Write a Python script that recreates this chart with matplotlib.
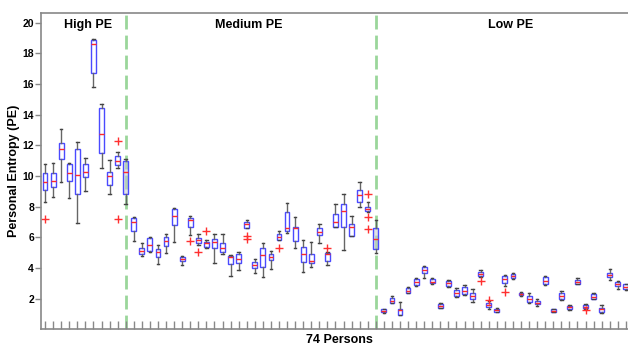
import numpy as np
import matplotlib
matplotlib.use("Agg")
import matplotlib.pyplot as plt

plt.rcParams['font.family'] = ['Liberation Sans', 'DejaVu Sans']

# box statistics per person (whisker low, q1, median, q3, whisker high)
lo = [8.32, 8.65, 9.63, 8.54, 6.91, 9.02, 15.79, 10.50, 8.81, 10.50, 8.17,
      5.76, 4.78, 5.06, 4.26, 4.96, 5.67, 4.19, 6.15, 5.50, 5.28, 4.30, 4.91, 3.50, 3.87,
      6.59, 3.65, 3.43, 3.93, 5.83, 6.26, 5.28, 3.76, 4.08, 5.61, 4.19, 6.69, 5.17, 6.11,
      7.96, 7.67, 5.00,
      1.08, 1.70, 0.93, 2.35, 2.85, 3.37, 2.94, 1.38, 2.78, 2.13, 2.24, 1.80, 3.44, 1.30,
      1.10, 2.82, 3.30, 2.20, 1.74, 1.54, 2.90, 1.10, 1.91, 1.28, 2.93, 1.35, 1.95, 1.08,
      3.22, 2.63, 2.58]
q1 = [9.09, 9.30, 11.09, 9.69, 8.83, 9.91, 16.70, 11.52, 9.41, 10.72, 8.81,
      6.41, 4.91, 5.13, 4.74, 5.45, 6.80, 4.46, 6.69, 5.61, 5.39, 5.28, 5.06, 4.26, 4.30,
      6.63, 3.98, 4.08, 4.52, 5.83, 6.41, 5.78, 4.41, 4.30, 6.15, 4.46, 6.69, 6.69, 6.11,
      8.28, 7.72, 5.22,
      1.13, 1.70, 0.93, 2.39, 2.89, 3.65, 3.00, 1.41, 2.82, 2.19, 2.30, 1.98, 3.48, 1.47,
      1.15, 3.00, 3.37, 2.24, 1.80, 1.63, 2.94, 1.13, 1.98, 1.32, 2.96, 1.37, 1.98, 1.11,
      3.39, 2.82, 2.61]
med = [9.63, 9.69, 11.76, 10.22, 10.07, 10.24, 18.61, 12.72, 10.00, 10.98, 10.28,
       7.00, 5.11, 5.50, 5.06, 5.76, 7.39, 4.59, 7.13, 5.83, 5.61, 5.67, 5.32, 4.74, 4.57,
       6.85, 4.19, 4.85, 4.70, 6.04, 6.59, 6.59, 4.89, 4.46, 6.37, 4.89, 7.02, 7.74, 6.69,
       8.76, 7.85, 5.89,
       1.21, 1.87, 1.26, 2.52, 3.07, 3.87, 3.11, 1.52, 3.04, 2.39, 2.52, 2.19, 3.61, 1.59,
       1.26, 3.26, 3.50, 2.32, 1.96, 1.74, 3.17, 1.21, 2.17, 1.43, 3.09, 1.48, 2.13, 1.30,
       3.54, 2.96, 2.78]
q3 = [10.18, 10.22, 12.13, 10.76, 11.76, 10.76, 18.87, 14.42, 10.28, 11.30, 10.98,
      7.24, 5.28, 5.94, 5.24, 6.04, 7.85, 4.74, 7.24, 5.98, 5.72, 5.89, 5.61, 4.78, 4.91,
      6.98, 4.37, 5.32, 4.91, 6.20, 7.67, 6.69, 5.39, 4.89, 6.59, 5.00, 7.52, 8.15, 6.85,
      9.09, 8.00, 6.63,
      1.30, 2.02, 1.30, 2.67, 3.26, 4.04, 3.26, 1.65, 3.17, 2.56, 2.74, 2.39, 3.76, 1.70,
      1.32, 3.48, 3.61, 2.39, 2.17, 1.85, 3.43, 1.30, 2.39, 1.54, 3.22, 1.59, 2.30, 1.41,
      3.65, 3.11, 2.94]
hi = [10.76, 10.83, 13.05, 10.85, 12.24, 11.15, 18.94, 14.68, 11.04, 11.59, 11.09,
      7.35, 5.61, 6.04, 5.50, 6.20, 7.89, 4.78, 7.39, 6.20, 5.83, 6.20, 6.20, 4.85, 5.02,
      7.13, 4.59, 5.61, 5.13, 6.43, 8.22, 7.31, 5.83, 5.72, 6.85, 5.06, 8.15, 8.83, 7.41,
      9.63, 8.32, 7.13,
      1.35, 2.17, 1.80, 2.74, 3.37, 4.13, 3.33, 1.70, 3.22, 2.67, 2.89, 2.61, 3.85, 1.87,
      1.40, 3.54, 3.70, 2.42, 2.35, 1.98, 3.50, 1.33, 2.50, 1.58, 3.33, 1.62, 2.39, 1.59,
      3.91, 3.15, 2.98]

# outliers, keyed by person number
fliers = {1: [7.19], 10: [12.28, 7.19], 19: [5.76], 20: [5.02], 21: [6.41],
          26: [6.10, 5.90], 30: [5.32], 36: [5.32], 41: [8.83, 7.31, 6.52],
          55: [3.17], 56: [1.93], 58: [2.45], 68: [1.25]}

# persons sitting on the group borders
border = [11, 42]
groups = ['High PE', 'Medium PE', 'Low PE']
group_x = [6.3, 26.2, 58.7]

fig = plt.figure(figsize=(6.28, 3.45), dpi=100)
ax = fig.add_axes([41 / 628, 15.7 / 345, 597 / 628, 316 / 345])

pos = np.arange(1, len(med) + 1)
stats = []
for i, p in enumerate(pos):
    stats.append(dict(whislo=lo[i], q1=q1[i], med=med[i], q3=q3[i], whishi=hi[i],
                      fliers=fliers.get(p, [])))

normal = [i for i, p in enumerate(pos) if p not in border]
special = [i for i, p in enumerate(pos) if p in border]

common = dict(widths=0.6, showfliers=True,
              medianprops=dict(color='#ff2a2a', lw=1.0),
              whiskerprops=dict(color='#666666', lw=1.0),
              capprops=dict(color='#444444', lw=1.0),
              flierprops=dict(marker='+', markeredgecolor='#ff3030', markersize=6, mew=1.0))

ax.bxp([stats[i] for i in normal], positions=pos[normal], patch_artist=True,
       boxprops=dict(edgecolor='#4a4aff', facecolor='white', lw=1.0), **common)

for p in border:
    ax.axvline(p, color='#9bd69b', lw=2, ls=(0, (5, 2.2)), zorder=1)

ax.bxp([stats[i] for i in special], positions=pos[special], patch_artist=True,
       boxprops=dict(edgecolor='#4a4aff', facecolor=(0.78, 0.80, 0.80, 0.55), lw=1.0),
       **common)

for g, x in zip(groups, group_x):
    ax.text(x, 19.85, g, ha='center', va='center', fontsize=9, fontweight='bold')

ax.set_xlim(0.5, 74.5)
ax.set_ylim(0, 20.6)
ax.set_xticks(np.arange(1, 75))
ax.set_xticklabels([])
ax.tick_params(axis='x', direction='in', length=6, width=1, color='#888888')
ax.set_yticks(np.arange(2, 21, 2))
ax.tick_params(axis='y', direction='out', length=4, width=1, color='#888888', labelsize=7.5, pad=1)
for t in ax.get_yticklabels():
    t.set_fontweight('bold')
for s in ax.spines.values():
    s.set_color('#888888')
    s.set_linewidth(1.2)

ax.set_ylabel('Personal Entropy (PE)', fontsize=9, fontweight='bold', va='center')
ax.yaxis.set_label_coords(-0.046, 0.5)
ax.set_xlabel('74 Persons', fontsize=9, fontweight='bold', va='center')
ax.xaxis.set_label_coords(0.5, -0.033)

fig.savefig('out.png', dpi=100)
